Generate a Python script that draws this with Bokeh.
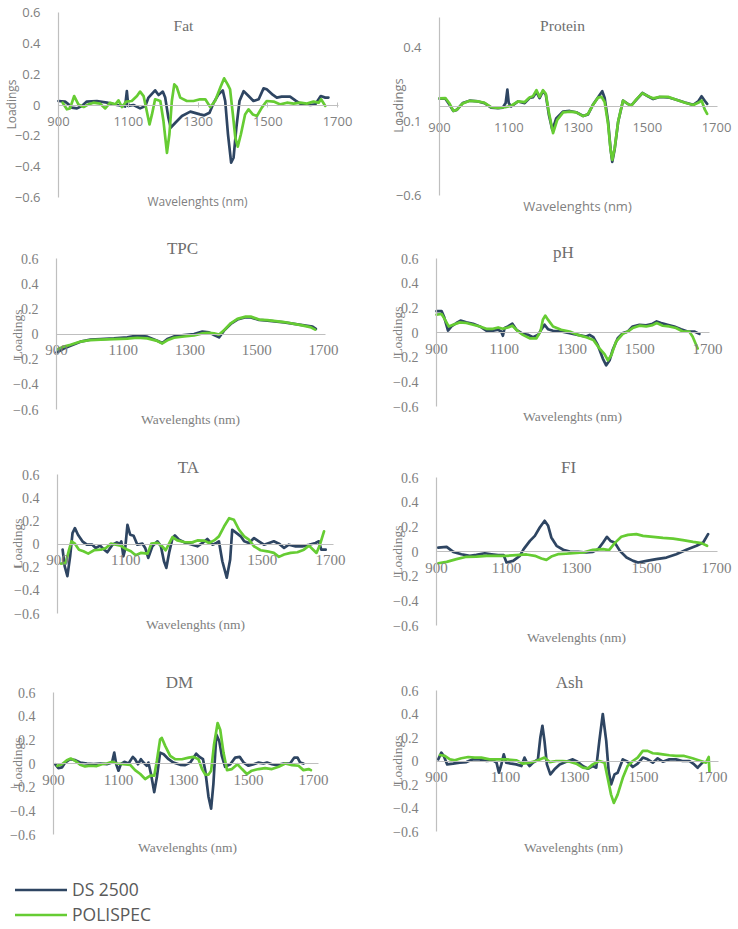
import math
from bokeh.plotting import figure
from bokeh.models import Range1d, LinearAxis, FixedTicker, Label, Legend, LegendItem
from bokeh.layouts import column, row
from bokeh.embed import file_html
from bokeh.resources import INLINE

DS_COLOR = "#2E4562"
POL_COLOR = "#66CC33"

series_names = ["DS 2500", "POLISPEC"]
x_label = "Wavelenghts (nm)"
y_label = "Loadings"
x_ticks = [900, 1100, 1300, 1500, 1700]
y_ticks = [-0.6, -0.4, -0.2, 0, 0.2, 0.4, 0.6]
y_ticks_protein = [-0.6, -0.1, 0.4]

# ---- data: (wavelength nm, loading) ----
fat_ds = [(900,0.026),(919,0.022),(929,0.004),(938,-0.017),(953,-0.022),(967,-0.006),(981,0.022),(1010,0.026),(1039,0.015),(1067,0.0),(1086,-0.006),(1091,-0.01),(1096,0.09),(1100,-0.006),(1115,0.0),(1134,-0.022),(1149,-0.006),(1158,0.048),(1177,0.095),(1187,0.065),(1199,0.087),(1206,0.048),(1215,-0.082),(1222,-0.147),(1235,-0.115),(1254,-0.071),(1278,-0.043),(1306,-0.061),(1318,-0.067),(1333,-0.05),(1345,0.015),(1359,0.069),(1371,0.095),(1378,0.026),(1386,-0.19),(1395,-0.374),(1402,-0.342),(1410,-0.147),(1419,0.026),(1431,0.09),(1445,0.058),(1459,0.026),(1474,0.037),(1488,0.108),(1497,0.102),(1515,0.065),(1526,0.048),(1540,0.054),(1564,0.054),(1579,0.03),(1593,0.009),(1622,0.0),(1636,0.004),(1652,0.058),(1665,0.048),(1674,0.048)]
fat_pol = [(912,0.015),(924,-0.028),(933,-0.022),(945,0.058),(957,0.004),(972,-0.013),(986,0.004),(1000,0.015),(1019,0.009),(1034,-0.022),(1048,0.015),(1063,0.004),(1072,0.03),(1082,-0.013),(1094,0.022),(1110,0.026),(1125,0.058),(1134,0.087),(1144,0.058),(1153,-0.039),(1161,-0.126),(1168,-0.061),(1177,0.037),(1192,0.026),(1201,-0.104),(1211,-0.31),(1218,-0.19),(1225,0.026),(1232,0.134),(1239,0.117),(1249,0.048),(1268,0.026),(1287,0.026),(1306,0.037),(1321,0.037),(1335,-0.013),(1349,0.026),(1364,0.113),(1375,0.173),(1385,0.134),(1392,0.102),(1400,-0.061),(1407,-0.212),(1414,-0.27),(1423,-0.19),(1435,-0.061),(1445,-0.028),(1457,-0.061),(1469,-0.071),(1483,-0.017),(1497,0.026),(1517,0.022),(1536,0.004),(1555,0.015),(1574,0.009),(1593,0.015),(1612,0.009),(1631,0.022),(1646,0.015),(1653,0.037),(1665,-0.006)]

protein_ds = [(900,0.053),(917,0.053),(929,0.011),(940,-0.03),(950,-0.023),(967,0.023),(987,0.039),(1011,0.034),(1030,0.023),(1049,-0.007),(1069,-0.011),(1083,-0.007),(1091,0.023),(1096,0.114),(1100,0.023),(1107,0.0),(1127,0.034),(1146,0.023),(1160,0.057),(1170,0.062),(1180,0.098),(1189,0.057),(1199,0.103),(1207,0.08),(1216,-0.057),(1226,-0.16),(1237,-0.08),(1257,-0.034),(1276,-0.03),(1295,-0.039),(1315,-0.064),(1329,-0.053),(1343,0.011),(1358,0.062),(1370,0.103),(1377,0.057),(1387,-0.103),(1394,-0.286),(1399,-0.373),(1406,-0.286),(1416,-0.103),(1430,0.039),(1445,0.016),(1454,0.007),(1469,0.046),(1486,0.091),(1502,0.069),(1517,0.05),(1536,0.064),(1560,0.062),(1584,0.046),(1609,0.027),(1633,0.011),(1647,0.034),(1657,0.069),(1666,0.039),(1673,0.018)]
protein_pol = [(900,0.055),(917,0.057),(929,0.02),(940,-0.03),(950,-0.022),(967,0.02),(987,0.038),(1011,0.035),(1030,0.025),(1049,-0.005),(1069,-0.01),(1090,-0.005),(1107,0.005),(1127,0.035),(1146,0.03),(1160,0.06),(1170,0.07),(1180,0.11),(1189,0.065),(1199,0.11),(1207,0.085),(1216,-0.04),(1228,-0.18),(1240,-0.09),(1257,-0.04),(1276,-0.035),(1295,-0.04),(1315,-0.065),(1329,-0.05),(1343,0.01),(1358,0.06),(1368,0.065),(1377,0.03),(1387,-0.12),(1394,-0.29),(1399,-0.36),(1406,-0.28),(1416,-0.1),(1430,0.04),(1445,0.015),(1454,0.005),(1469,0.05),(1486,0.09),(1502,0.07),(1517,0.055),(1536,0.065),(1560,0.065),(1584,0.045),(1609,0.025),(1633,0.01),(1647,0.025),(1657,0.04),(1666,-0.02),(1673,-0.05)]

tpc_ds = [(900,-0.147),(922,-0.115),(942,-0.093),(972,-0.061),(1002,-0.045),(1032,-0.04),(1072,-0.035),(1112,-0.027),(1142,-0.013),(1172,-0.021),(1202,-0.053),(1217,-0.072),(1232,-0.04),(1252,-0.019),(1282,-0.008),(1312,0.0),(1337,0.019),(1357,0.013),(1372,-0.008),(1387,-0.027),(1402,0.027),(1422,0.08),(1442,0.115),(1467,0.133),(1482,0.131),(1507,0.112),(1532,0.107),(1582,0.093),(1632,0.072),(1667,0.059),(1677,0.04)]
tpc_pol = [(905,-0.12),(922,-0.1),(942,-0.085),(972,-0.06),(1002,-0.048),(1032,-0.045),(1072,-0.04),(1112,-0.037),(1142,-0.03),(1172,-0.035),(1202,-0.055),(1217,-0.075),(1232,-0.05),(1252,-0.03),(1282,-0.02),(1312,-0.012),(1337,0.005),(1357,0.01),(1372,0.005),(1387,-0.005),(1402,0.03),(1422,0.085),(1442,0.12),(1467,0.138),(1482,0.138),(1507,0.115),(1532,0.11),(1582,0.095),(1632,0.07),(1660,0.055),(1675,0.035)]

ph_ds = [(900,0.173),(915,0.173),(922,0.13),(934,0.016),(944,0.049),(959,0.077),(971,0.096),(988,0.082),(1008,0.071),(1028,0.049),(1047,0.016),(1067,0.014),(1082,0.022),(1091,0.008),(1096,-0.027),(1101,0.036),(1111,0.049),(1124,0.071),(1136,0.022),(1155,-0.011),(1170,-0.019),(1185,-0.038),(1200,-0.019),(1209,0.022),(1219,0.063),(1229,0.027),(1244,0.014),(1268,0.008),(1293,-0.005),(1317,-0.019),(1342,-0.033),(1352,-0.019),(1363,-0.038),(1376,-0.101),(1391,-0.211),(1401,-0.266),(1411,-0.225),(1420,-0.142),(1435,-0.047),(1450,-0.005),(1465,0.008),(1479,0.049),(1499,0.063),(1519,0.058),(1538,0.071),(1550,0.09),(1563,0.077),(1582,0.063),(1602,0.049),(1622,0.027),(1641,0.008),(1661,0.008),(1676,-0.011)]
ph_pol = [(900,0.145),(915,0.15),(925,0.104),(936,0.049),(949,0.063),(969,0.082),(988,0.077),(1008,0.063),(1028,0.049),(1047,0.03),(1067,0.03),(1082,0.041),(1096,0.03),(1111,0.041),(1124,0.055),(1141,0.008),(1155,-0.019),(1175,-0.047),(1195,-0.047),(1207,0.008),(1214,0.104),(1221,0.137),(1229,0.104),(1244,0.049),(1268,0.022),(1293,0.008),(1317,-0.019),(1342,-0.038),(1363,-0.06),(1381,-0.129),(1396,-0.175),(1406,-0.225),(1416,-0.184),(1430,-0.074),(1450,-0.011),(1465,0.008),(1479,0.036),(1499,0.055),(1519,0.049),(1538,0.06),(1550,0.077),(1568,0.055),(1587,0.049),(1607,0.036),(1627,0.008),(1646,0.008),(1656,-0.033),(1671,-0.129)]

ta_ds = [(915,-0.049),(921,-0.191),(929,-0.277),(937,-0.106),(944,0.094),(951,0.137),(960,0.08),(973,0.023),(986,-0.006),(1002,-0.006),(1012,-0.034),(1025,-0.014),(1037,-0.049),(1046,-0.071),(1061,-0.006),(1074,0.014),(1083,0.0),(1087,0.023),(1093,-0.106),(1098,-0.049),(1105,0.166),(1113,0.08),(1123,0.071),(1134,-0.006),(1149,0.003),(1157,-0.034),(1166,-0.12),(1178,-0.02),(1193,0.023),(1203,-0.02),(1212,-0.149),(1219,-0.206),(1227,-0.077),(1237,0.051),(1244,0.074),(1256,0.037),(1276,0.009),(1295,-0.006),(1310,-0.02),(1325,0.009),(1339,0.043),(1354,-0.006),(1366,0.009),(1373,0.023),(1383,-0.149),(1396,-0.291),(1406,-0.134),(1412,0.123),(1422,0.1),(1437,0.066),(1447,0.023),(1461,0.009),(1476,0.051),(1490,0.023),(1505,-0.006),(1520,0.009),(1534,0.023),(1549,0.003),(1564,-0.034),(1578,-0.006),(1598,-0.02),(1617,-0.02),(1637,-0.006),(1656,0.009),(1666,0.023),(1673,-0.049),(1686,-0.049)]
ta_pol = [(910,-0.169),(924,-0.163),(934,-0.049),(941,0.023),(951,0.003),(963,-0.049),(976,-0.063),(990,-0.083),(1007,-0.054),(1027,-0.049),(1042,-0.034),(1056,0.003),(1071,-0.006),(1085,-0.014),(1100,-0.043),(1115,-0.063),(1129,-0.097),(1144,-0.077),(1164,-0.083),(1175,0.003),(1193,0.009),(1207,-0.02),(1217,-0.054),(1227,0.003),(1237,0.06),(1251,0.031),(1271,0.017),(1295,0.014),(1310,0.031),(1330,0.029),(1344,0.009),(1359,0.031),(1373,0.066),(1388,0.151),(1403,0.223),(1417,0.209),(1432,0.123),(1447,0.066),(1461,0.037),(1476,-0.02),(1495,-0.054),(1515,-0.063),(1534,-0.077),(1549,-0.111),(1564,-0.091),(1583,-0.077),(1603,-0.071),(1622,-0.049),(1637,-0.014),(1647,-0.043),(1659,-0.077),(1669,-0.006),(1681,0.109)]

fi_ds = [(905,0.032),(929,0.038),(948,-0.003),(971,-0.022),(995,-0.035),(1014,-0.027),(1038,-0.014),(1057,-0.022),(1076,-0.03),(1092,-0.03),(1100,-0.089),(1119,-0.076),(1138,-0.035),(1149,0.019),(1167,0.086),(1181,0.127),(1195,0.195),(1209,0.249),(1219,0.208),(1228,0.114),(1243,0.046),(1262,0.014),(1281,0.0),(1305,-0.003),(1328,-0.008),(1347,-0.003),(1362,0.019),(1376,0.073),(1387,0.119),(1397,0.086),(1409,0.073),(1424,0.005),(1443,-0.049),(1462,-0.076),(1476,-0.089),(1500,-0.076),(1528,-0.062),(1557,-0.049),(1585,-0.022),(1614,0.014),(1643,0.046),(1662,0.073),(1676,0.141)]
fi_pol = [(905,-0.095),(929,-0.084),(957,-0.062),(986,-0.043),(1014,-0.041),(1043,-0.035),(1071,-0.035),(1100,-0.035),(1128,-0.03),(1157,-0.024),(1181,-0.035),(1200,-0.057),(1214,-0.068),(1228,-0.041),(1247,-0.022),(1281,-0.016),(1319,-0.008),(1347,0.014),(1376,0.019),(1393,0.011),(1409,0.068),(1428,0.119),(1447,0.135),(1471,0.141),(1490,0.127),(1519,0.119),(1547,0.111),(1576,0.105),(1604,0.092),(1633,0.078),(1657,0.068),(1673,0.046)]

dm_ds = [(905,-0.006),(915,-0.039),(926,-0.033),(936,0.008),(951,0.036),(967,0.028),(982,0.008),(1003,0.0),(1023,-0.006),(1044,0.0),(1064,-0.006),(1080,0.008),(1087,0.092),(1093,-0.006),(1100,-0.061),(1107,-0.006),(1118,0.014),(1131,0.0),(1144,0.056),(1151,0.036),(1160,-0.006),(1169,0.036),(1177,0.008),(1187,-0.019),(1192,0.008),(1200,-0.089),(1210,-0.242),(1218,-0.117),(1228,0.092),(1239,0.078),(1254,0.036),(1269,0.008),(1290,-0.011),(1305,-0.014),(1321,0.008),(1339,0.083),(1349,0.056),(1360,0.036),(1367,-0.061),(1377,-0.283),(1385,-0.381),(1392,-0.172),(1401,0.244),(1410,0.189),(1418,0.064),(1428,-0.028),(1444,-0.006),(1459,0.05),(1473,0.056),(1485,0.008),(1500,-0.019),(1516,-0.006),(1531,0.008),(1546,0.0),(1557,0.008),(1572,-0.006),(1587,-0.014),(1608,0.0),(1628,0.0),(1641,0.05),(1651,0.05),(1659,0.008),(1669,0.0)]
dm_pol = [(912,-0.019),(926,-0.006),(941,0.028),(953,0.042),(967,0.022),(982,-0.011),(997,-0.025),(1013,-0.019),(1033,-0.022),(1049,-0.006),(1064,0.0),(1080,0.014),(1095,0.0),(1115,-0.006),(1136,-0.011),(1151,-0.056),(1167,-0.089),(1182,-0.131),(1198,-0.103),(1210,-0.103),(1218,0.022),(1228,0.203),(1233,0.217),(1244,0.147),(1259,0.064),(1274,0.036),(1295,0.036),(1316,0.05),(1331,0.056),(1346,0.036),(1357,-0.047),(1367,-0.094),(1377,-0.094),(1385,-0.061),(1394,0.161),(1405,0.342),(1413,0.286),(1423,0.092),(1434,-0.056),(1449,-0.047),(1466,-0.006),(1480,-0.047),(1495,-0.089),(1510,-0.061),(1531,-0.047),(1551,-0.039),(1572,-0.047),(1593,-0.028),(1613,0.0),(1634,-0.014),(1654,-0.019),(1669,-0.056),(1685,-0.047),(1692,-0.056)]

ash_ds = [(905,0.014),(914,0.071),(921,0.043),(931,-0.029),(948,-0.023),(967,-0.014),(987,-0.009),(1006,0.014),(1025,0.014),(1045,0.0),(1064,0.006),(1074,-0.014),(1081,-0.1),(1088,-0.029),(1095,0.057),(1102,-0.014),(1117,-0.023),(1131,-0.029),(1146,-0.043),(1155,0.029),(1162,-0.014),(1170,-0.043),(1180,-0.014),(1194,0.014),(1201,0.2),(1207,0.3),(1213,0.171),(1220,-0.029),(1230,-0.114),(1242,-0.071),(1257,-0.029),(1276,-0.006),(1295,0.014),(1310,-0.009),(1324,-0.043),(1339,-0.066),(1353,-0.043),(1363,-0.057),(1372,0.171),(1382,0.4),(1392,0.171),(1399,-0.086),(1406,-0.2),(1416,-0.114),(1425,-0.1),(1440,0.014),(1454,-0.006),(1469,-0.051),(1483,-0.023),(1498,0.029),(1512,0.014),(1527,-0.014),(1541,0.023),(1556,-0.006),(1575,0.014),(1594,0.014),(1613,0.0),(1633,0.0),(1647,-0.029),(1657,-0.057),(1666,-0.029),(1671,-0.014)]
ash_pol = [(910,0.051),(924,0.043),(939,0.014),(953,0.006),(972,0.023),(992,0.034),(1011,0.029),(1030,0.029),(1054,0.014),(1078,0.014),(1102,0.014),(1131,0.006),(1151,-0.023),(1170,-0.014),(1189,0.0),(1213,0.029),(1228,-0.009),(1247,0.0),(1266,0.0),(1286,-0.006),(1305,-0.023),(1324,-0.057),(1339,-0.063),(1353,-0.029),(1372,0.0),(1387,-0.014),(1396,-0.143),(1406,-0.286),(1414,-0.357),(1425,-0.286),(1440,-0.143),(1454,-0.043),(1469,0.0),(1483,0.029),(1498,0.086),(1512,0.086),(1527,0.066),(1541,0.063),(1556,0.057),(1575,0.049),(1594,0.043),(1618,0.043),(1642,0.023),(1666,0.0),(1681,-0.014),(1689,0.034),(1691,-0.086)]

# ---- layout (window pixels; the page content starts at the top-left corner) ----
SERIF = "Liberation Serif"
SANS = "Open Sans"
TICK_COLOR = "#808080"
TITLE_COLOR = "#6E6E6E"

panels = [
    dict(title="Fat", ds=fat_ds, pol=fat_pol, yt=y_ticks, X0=0, Y0=0, W=369, H=214,
         s900=58, s1700=337, st=12, sb=197, xend=1703, tpos=(183, 25), ypos=(11, 104), xpos=(197, 201),
         sans=True),
    dict(title="Protein", ds=protein_ds, pol=protein_pol, yt=y_ticks_protein, X0=369, Y0=0, W=367, H=214,
         s900=439, s1700=716, st=17, sb=195, xend=1703, tpos=(562, 25), ypos=(397, 105), xpos=(577, 205),
         sans=True),
    dict(title="TPC", ds=tpc_ds, pol=tpc_pol, yt=y_ticks, X0=0, Y0=214, W=369, H=214,
         s900=56, s1700=323, st=258, sb=409, xend=1706, tpos=(182, 248), ypos=(17, 334), xpos=(190, 419),
         sans=False),
    dict(title="pH", ds=ph_ds, pol=ph_pol, yt=y_ticks, X0=369, Y0=214, W=367, H=214,
         s900=436, s1700=707, st=258, sb=406, xend=1706, tpos=(563, 252), ypos=(397, 331), xpos=(572, 416),
         sans=False),
    dict(title="TA", ds=ta_ds, pol=ta_pol, yt=y_ticks, X0=0, Y0=428, W=369, H=217,
         s900=57, s1700=330, st=474, sb=613, xend=1709, tpos=(188, 467), ypos=(17, 543), xpos=(195, 624),
         sans=False),
    dict(title="FI", ds=fi_ds, pol=fi_pol, yt=y_ticks, X0=369, Y0=428, W=367, H=217,
         s900=436, s1700=716, st=477, sb=625, xend=1703, tpos=(568, 467), ypos=(397, 550), xpos=(576, 637),
         sans=False),
    dict(title="DM", ds=dm_ds, pol=dm_pol, yt=y_ticks, X0=0, Y0=645, W=369, H=282,
         s900=53, s1700=313, st=692, sb=834, xend=1715, tpos=(179, 682), ypos=(17, 762), xpos=(187, 847),
         sans=False),
    dict(title="Ash", ds=ash_ds, pol=ash_pol, yt=y_ticks, X0=369, Y0=645, W=367, H=282,
         s900=436, s1700=712, st=690, sb=831, xend=1718, tpos=(569, 682), ypos=(397, 760), xpos=(573, 847),
         sans=False),
]


def make_panel(s):
    kx = (s["s1700"] - s["s900"]) / 800.0
    a = 900 - (s["s900"] - s["X0"]) / kx
    b = a + s["W"] / kx
    ky = (s["sb"] - s["st"]) / 1.2
    d = 0.6 + (s["st"] - s["Y0"]) / ky
    c = d - s["H"] / ky

    def to_data(sx, sy):
        return a + (sx - s["X0"]) / kx, d - (sy - s["Y0"]) / ky

    p = figure(width=s["W"], height=s["H"], x_range=Range1d(a, b), y_range=Range1d(c, d),
               x_axis_location=None, y_axis_location=None, toolbar_location=None,
               output_backend="svg", title=None, min_border=0)
    p.min_border_left = p.min_border_right = p.min_border_top = p.min_border_bottom = 0
    p.grid.visible = False
    p.outline_line_color = None
    p.background_fill_color = "white"
    p.border_fill_color = "white"

    if s["sans"]:
        tick_font, xt_size, yt_size, x_standoff = SANS, "13px", "13px", 10
        lab_font, lab_size = SANS, ("12px" if s["title"] == "Fat" else "13px")
        title_size = "15.5px"
    else:
        tick_font, xt_size, yt_size, x_standoff = SERIF, "15px", "14px", 5
        lab_font, lab_size = SERIF, "13.5px"
        title_size = "17px"

    xax = LinearAxis(fixed_location=0, bounds=(900, s["xend"]), ticker=FixedTicker(ticks=x_ticks))
    yax = LinearAxis(fixed_location=900, bounds=(-0.6, 0.6), ticker=FixedTicker(ticks=s["yt"]))
    for ax, size, standoff in ((xax, xt_size, x_standoff), (yax, yt_size, 12)):
        ax.axis_line_color = "#BFBFBF"
        ax.axis_line_width = 1.2
        ax.major_tick_line_color = None
        ax.minor_tick_line_color = None
        ax.major_label_text_font = tick_font
        ax.major_label_text_font_size = size
        ax.major_label_text_color = TICK_COLOR
        ax.major_label_standoff = standoff
    if s["title"] == "Fat":
        xax.major_tick_line_color = "#BFBFBF"
        xax.major_tick_in = 3
        xax.major_tick_out = 2
    p.add_layout(xax, "below")
    p.add_layout(yax, "left")

    rends = []
    for pts, color in ((s["ds"], DS_COLOR), (s["pol"], POL_COLOR)):
        xs = [q[0] for q in pts]
        ys = [q[1] for q in pts]
        rends.append(p.line(xs, ys, line_color=color, line_width=2.7,
                            line_join="round", line_cap="round"))

    tx, ty = to_data(*s["tpos"])
    p.add_layout(Label(x=tx, y=ty, text=s["title"], text_align="center", text_baseline="middle",
                       text_font=SERIF, text_font_size=title_size, text_color=TITLE_COLOR))
    lx, ly = to_data(*s["xpos"])
    p.add_layout(Label(x=lx, y=ly, text=x_label, text_align="center", text_baseline="middle",
                       text_font=lab_font, text_font_size=lab_size, text_color=TICK_COLOR))
    yx, yy = to_data(*s["ypos"])
    p.add_layout(Label(x=yx, y=yy, text=y_label, text_align="center", text_baseline="middle",
                       angle=math.pi / 2, text_font=lab_font, text_font_size=lab_size,
                       text_color=TICK_COLOR))
    return p, rends


built = [make_panel(s) for s in panels]
figs = [b[0] for b in built]

# legend (inside the DM cell, below its plot), using the DM line renderers
dm_fig, dm_rends = built[6]
for name, rend, vy in ((series_names[0], dm_rends[0], 26), (series_names[1], dm_rends[1], 1)):
    lg = Legend(items=[LegendItem(label=name, renderers=[rend])],
                location=(15, vy), orientation="vertical",
                glyph_width=52, glyph_height=19, label_height=19, label_standoff=5,
                padding=0, margin=0,
                label_text_font=SANS, label_text_font_size="17.5px", label_text_color="#595959",
                border_line_color=None, background_fill_alpha=0)
    dm_fig.add_layout(lg, "center")

layout = column(row(figs[0], figs[1]), row(figs[2], figs[3]), row(figs[4], figs[5]),
                row(figs[6], figs[7]))

open("out.html", "w").write(file_html(layout, INLINE))
